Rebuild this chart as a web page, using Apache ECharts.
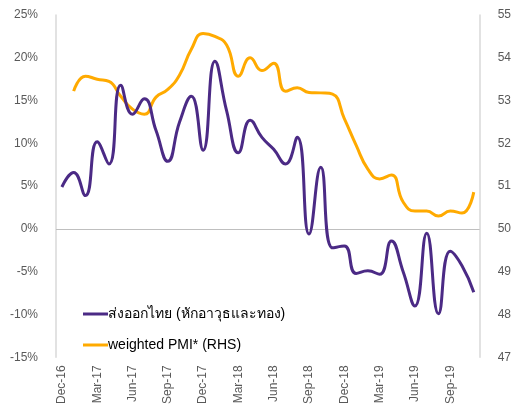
<!DOCTYPE html>
<html>
<head>
<meta charset="utf-8">
<script src="https://cdn.jsdelivr.net/npm/echarts@6/dist/echarts.min.js"></script>
<style>
  html, body { margin: 0; padding: 0; background: #fff; }
  #chart { width: 514px; height: 407px; }
</style>
</head>
<body>
<div id="chart"></div>
<script>
// Monthly categories, Dec-16 .. Nov-19
const months = [
  'Dec-16','Jan-17','Feb-17','Mar-17','Apr-17','May-17','Jun-17','Jul-17','Aug-17','Sep-17','Oct-17','Nov-17',
  'Dec-17','Jan-18','Feb-18','Mar-18','Apr-18','May-18','Jun-18','Jul-18','Aug-18','Sep-18','Oct-18','Nov-18',
  'Dec-18','Jan-19','Feb-19','Mar-19','Apr-19','May-19','Jun-19','Jul-19','Aug-19','Sep-19','Oct-19','Nov-19'
];

// Thai exports excluding arms and gold, % YoY (left axis)
const exportsYoY = [
  4.9, 6.6, 3.9, 10.2, 7.6, 16.8, 13.4, 15.2, 11.5, 7.9, 12.5, 15.5,
  9.2, 19.6, 13.8, 8.9, 12.7, 10.7, 9.3, 7.6, 10.7, -0.6, 7.2, -2.2,
  -2.0, -5.2, -4.9, -5.3, -1.4, -5.0, -9.0, -0.5, -9.9, -2.6, -4.3, -7.4
];

// Weighted PMI index (right axis); no reading for Dec-16
const weightedPMI = [
  null, 53.22, 53.57, 53.5, 53.45, 53.1, 52.8, 52.68, 53.08, 53.26, 53.6, 54.2,
  54.57, 54.5, 54.3, 53.57, 54.0, 53.7, 53.87, 53.22, 53.3, 53.19, 53.18, 53.15,
  52.58, 51.96, 51.4, 51.17, 51.26, 50.63, 50.42, 50.42, 50.3, 50.42, 50.37, 50.86
];

const seriesNames = ['ส่งออกไทย (หักอาวุธและทอง)', 'weighted PMI* (RHS)'];

const axisGrey = '#D9D9D9';
const labelGrey = '#595959';
const fontFamily = "'Liberation Sans', Arial, 'DejaVu Sans', sans-serif";

const chart = echarts.init(document.getElementById('chart'), null, { renderer: 'canvas' });

chart.setOption({
  animation: false,
  textStyle: { fontFamily: fontFamily },
  grid: { left: 56, right: 32, top: 15, bottom: 49, containLabel: false },
  legend: {
    orient: 'vertical',
    left: 78,
    top: 302,
    itemWidth: 25,
    itemHeight: 3,
    itemGap: 17,
    icon: 'rect',
    textStyle: { color: '#000', fontSize: 14, fontFamily: fontFamily, padding: [0, 0, 0, -5] },
    data: seriesNames
  },
  xAxis: {
    type: 'category',
    data: months,
    boundaryGap: true,
    axisLine: { show: false },
    axisTick: { show: false },
    axisLabel: {
      interval: 2,
      rotate: 90,
      color: labelGrey,
      fontSize: 12,
      margin: 8
    },
    splitLine: { show: false }
  },
  yAxis: [
    {
      type: 'value',
      min: -15,
      max: 25,
      interval: 5,
      position: 'left',
      axisLine: { show: true, lineStyle: { color: axisGrey, width: 1.5 } },
      axisTick: { show: false },
      splitLine: { show: false },
      axisLabel: { formatter: '{value}%', color: labelGrey, fontSize: 12, margin: 18 }
    },
    {
      type: 'value',
      min: 47,
      max: 55,
      interval: 1,
      position: 'right',
      axisLine: { show: true, lineStyle: { color: axisGrey, width: 1.5 } },
      axisTick: { show: false },
      splitLine: { show: false },
      axisLabel: { color: labelGrey, fontSize: 12, margin: 18 }
    }
  ],
  series: [
    {
      name: seriesNames[0],
      type: 'line',
      yAxisIndex: 0,
      data: exportsYoY,
      smooth: 0.5,
      showSymbol: false,
      z: 3,
      lineStyle: { color: '#4B2A85', width: 3 },
      itemStyle: { color: '#4B2A85' },
      markLine: {
        silent: true,
        symbol: ['none', 'none'],
        label: { show: false },
        lineStyle: { color: '#BFBFBF', width: 1, type: 'solid' },
        data: [{ yAxis: 0 }],
        z: 1
      }
    },
    {
      name: seriesNames[1],
      type: 'line',
      yAxisIndex: 1,
      data: weightedPMI,
      smooth: 0.5,
      showSymbol: false,
      z: 2,
      lineStyle: { color: '#FFAA00', width: 3 },
      itemStyle: { color: '#FFAA00' }
    }
  ]
});
</script>
</body>
</html>
